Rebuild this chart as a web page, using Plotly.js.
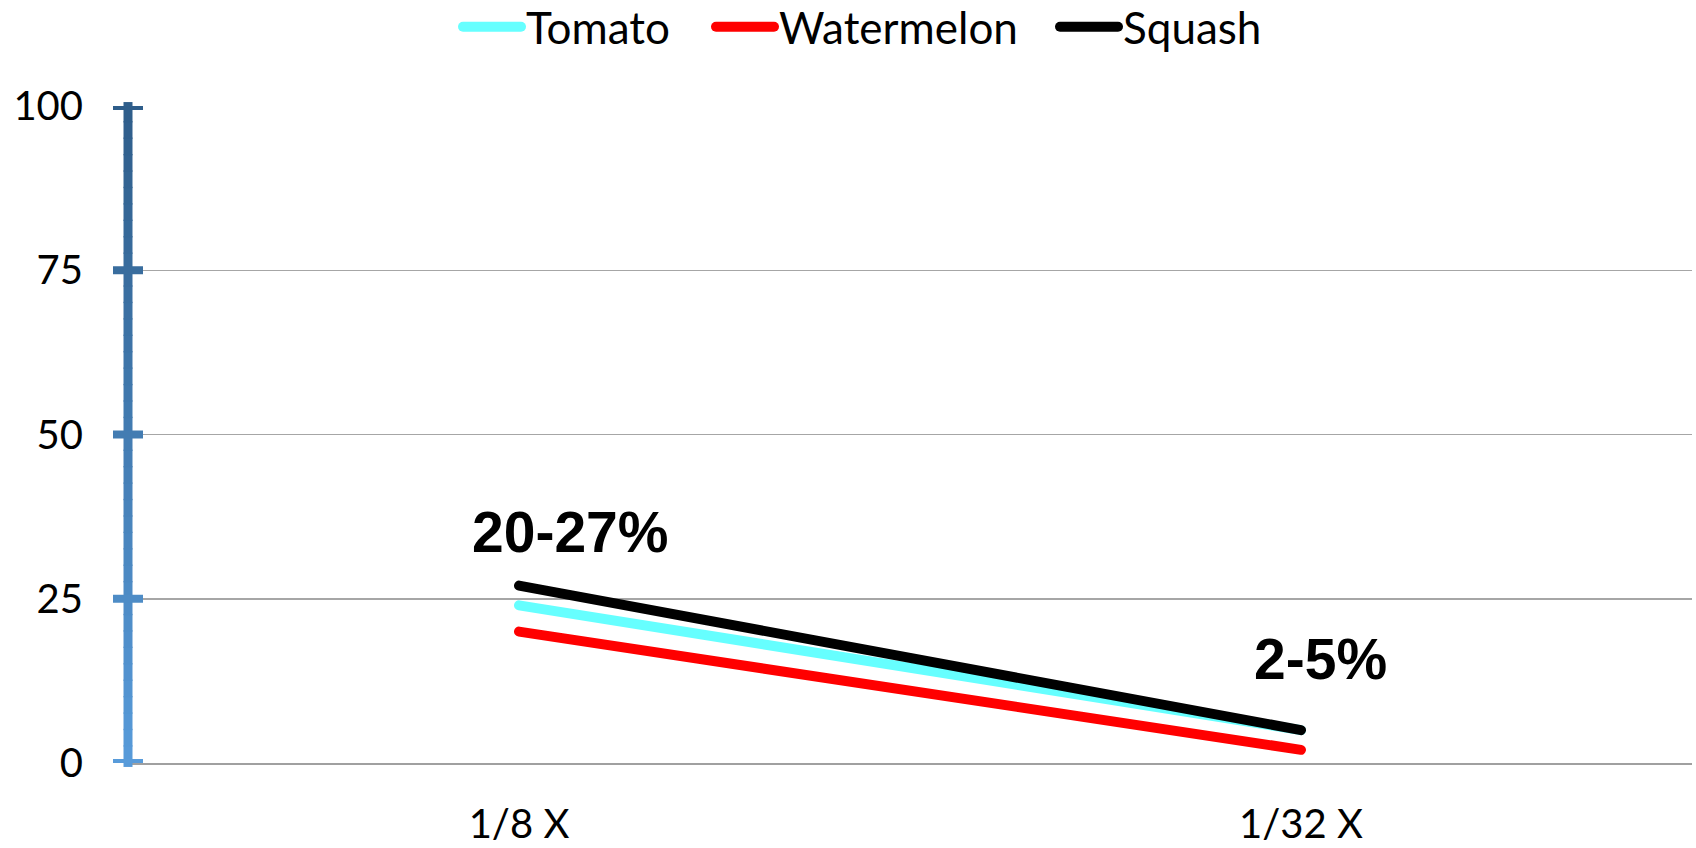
<!DOCTYPE html>
<html>
<head>
<meta charset="utf-8">
<script src="https://cdn.plot.ly/plotly-3.0.1.min.js"></script>
<style>
  html, body { margin: 0; padding: 0; background: #fff; }
  #graph1 { width: 1696px; height: 848px; }
  path.js-line { stroke-linecap: round; }
</style>
</head>
<body>
<div id="graph1"></div>
<script>
let categories = ['1/8 X', '1/32 X'];
let seriesNames = ['Tomato', 'Watermelon', 'Squash'];
let tomato = [24, 5];
let watermelon = [20, 2];
let squash = [27, 5];
let rangeLabels = ['20-27%', '2-5%'];
let yTicks = [0, 25, 50, 75, 100];

let colorArray = ['#66FFFF', '#FF0000', '#000000'];
let legendWidths = [180, 271, 140];
let seriesValues = [tomato, watermelon, squash];

let traceArray = [];
for (let i = 0; i < seriesNames.length; i++) {
  traceArray.push({
    x: categories,
    y: seriesValues[i],
    name: seriesNames[i],
    mode: 'lines',
    line: { color: colorArray[i], width: 10 },
    legendwidth: legendWidths[i],
    type: 'scatter'
  });
}

// gradient on the value axis: dark at top, light at bottom
function axisColor(t) {
  let lo = [88, 155, 218], hi = [46, 93, 138];
  let c = lo.map((v, k) => Math.round(v + (hi[k] - v) * t));
  return 'rgb(' + c.join(',') + ')';
}

let shapes = [];
let nSeg = 40;
for (let s = 0; s < nSeg; s++) {
  let a = s / nSeg, b = (s + 1) / nSeg;
  shapes.push({
    type: 'line', xref: 'paper', yref: 'paper',
    x0: 0, x1: 0, y0: a - (s === 0 ? 0.006 : 0), y1: b + (s === nSeg - 1 ? 0.006 : 0.002),
    line: { color: axisColor((a + b) / 2), width: 9 },
    layer: 'above'
  });
}
yTicks.forEach(v => {
  shapes.push({
    type: 'line', xref: 'paper', yref: 'y',
    xsizemode: 'pixel', xanchor: 0, x0: -15, x1: 15,
    y0: v, y1: v,
    line: { color: axisColor(v / 100), width: 8 },
    layer: 'above'
  });
});
// small category tick at the left end
shapes.push({
  type: 'line', xref: 'paper', yref: 'y',
  ysizemode: 'pixel', yanchor: 0, y0: 0, y1: -15,
  x0: 0, x1: 0,
  line: { color: '#A0A0A0', width: 2 },
  layer: 'below'
});

let annotations = [
  { x: 0.065, y: 35.2, text: rangeLabels[0] },
  { x: 1.025, y: 15.8, text: rangeLabels[1] }
].map(a => Object.assign(a, {
  xref: 'x', yref: 'y', showarrow: false,
  xanchor: 'center', yanchor: 'middle',
  font: { family: 'Liberation Sans, Arial, sans-serif', size: 57, color: '#000', weight: 'bold' }
}));

var layout = {
  width: 1696,
  height: 848,
  margin: { l: 128, r: 4, t: 106, b: 85, autoexpand: false },
  paper_bgcolor: '#fff',
  plot_bgcolor: '#fff',
  font: { family: 'Lato, Liberation Sans, sans-serif', size: 40, color: '#000' },
  showlegend: true,
  legend: {
    orientation: 'h',
    x: 0.211, xanchor: 'left',
    y: 1.12, yanchor: 'middle',
    font: { size: 44 },
    itemwidth: 58,
    traceorder: 'normal'
  },
  xaxis: {
    type: 'category',
    range: [-0.5, 1.5],
    showgrid: false,
    zeroline: false,
    showline: true,
    linecolor: '#A0A0A0',
    linewidth: 2,
    ticks: '',
    ticklabelstandoff: 25,
    fixedrange: true
  },
  yaxis: {
    range: [0, 100],
    tickvals: yTicks,
    showgrid: true,
    gridcolor: '#A6A6A6',
    gridwidth: 1.5,
    zeroline: false,
    showline: false,
    ticks: '',
    ticklabelstandoff: 44,
    fixedrange: true
  },
  shapes: shapes,
  annotations: annotations
};

Plotly.newPlot('graph1', traceArray, layout, { displayModeBar: false, staticPlot: true });
</script>
</body>
</html>
